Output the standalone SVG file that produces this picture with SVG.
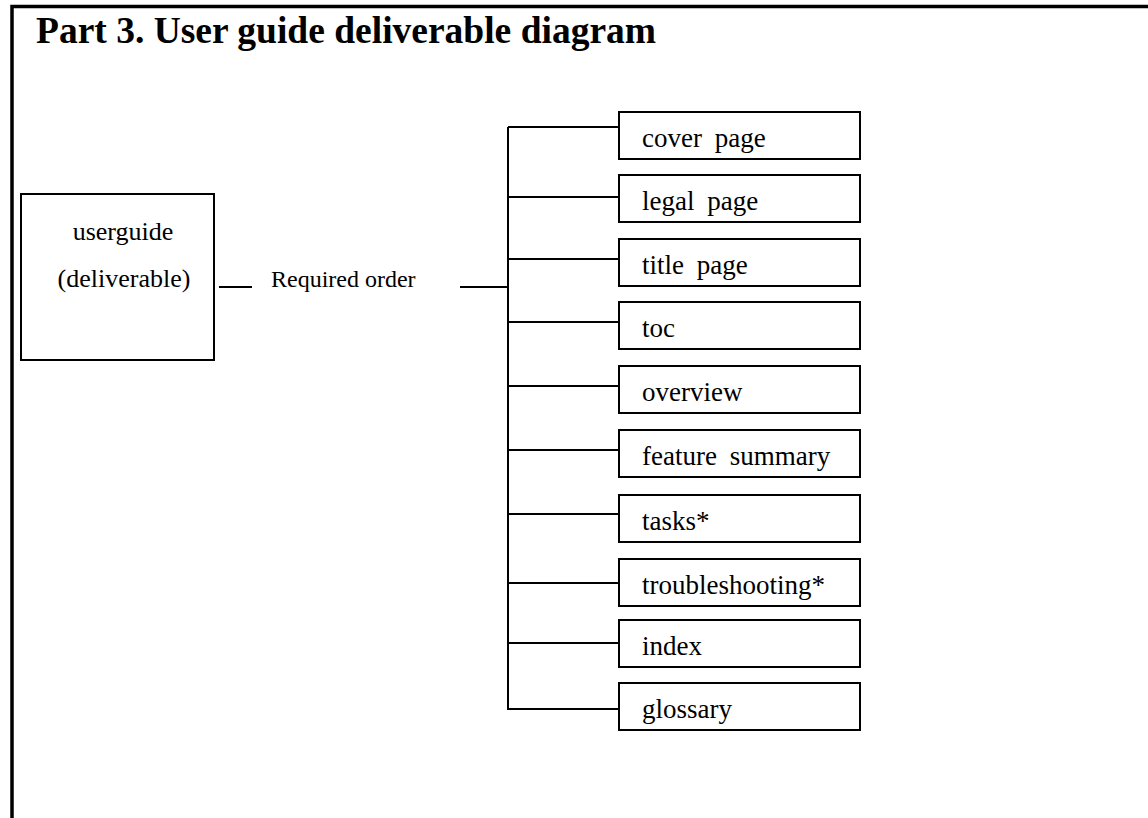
<svg xmlns="http://www.w3.org/2000/svg" width="1148" height="818" viewBox="0 0 1148 818">
<style>
  .frame { fill: none; stroke: #000; stroke-width: 3.5; }
  .box { fill: #fff; stroke: #000; stroke-width: 2; }
  .ln { fill: none; stroke: #000; stroke-width: 2; }
  .t { font-family: "Liberation Serif", "Times New Roman", serif; fill: #000; }
  .lbl { font-size: 27px; }
  .main { font-size: 26px; }
  .title { font-size: 37.5px; font-weight: bold; }
</style>
<rect width="1148" height="818" fill="#fff"/>
<path class="frame" d="M12,818 V6.5 H1148"/>
<text class="t title" x="36" y="43">Part 3. User guide deliverable diagram</text>

<g id="userguide">
  <rect class="box" x="21" y="194" width="193" height="166"/>
  <text class="t main" x="123" y="240" text-anchor="middle">userguide</text>
  <text class="t main" x="124" y="287" text-anchor="middle">(deliverable)</text>
</g>

<g id="connectors">
  <path class="ln" d="M219,287 H252"/>
  <text class="t" x="271" y="287" font-size="24">Required order</text>
  <path class="ln" d="M460,287 H508"/>
  <path class="ln" d="M508,127 V710"/>
  <path class="ln" d="M508,127 H619"/>
  <path class="ln" d="M508,197 H619"/>
  <path class="ln" d="M508,259 H619"/>
  <path class="ln" d="M508,322 H619"/>
  <path class="ln" d="M508,386 H619"/>
  <path class="ln" d="M508,450 H619"/>
  <path class="ln" d="M508,514 H619"/>
  <path class="ln" d="M508,583 H619"/>
  <path class="ln" d="M508,643 H619"/>
  <path class="ln" d="M508,709 H619"/>
</g>

<g id="cover-page"><rect class="box" x="619" y="112" width="241" height="47"/><text class="t lbl" x="642" y="147" word-spacing="6">cover page</text></g>
<g id="legal-page"><rect class="box" x="619" y="175" width="241" height="47"/><text class="t lbl" x="642" y="210" word-spacing="6">legal page</text></g>
<g id="title-page"><rect class="box" x="619" y="239" width="241" height="47"/><text class="t lbl" x="642" y="274" word-spacing="6">title page</text></g>
<g id="toc"><rect class="box" x="619" y="302" width="241" height="47"/><text class="t lbl" x="642" y="337">toc</text></g>
<g id="overview"><rect class="box" x="619" y="366" width="241" height="47"/><text class="t lbl" x="642" y="401">overview</text></g>
<g id="feature-summary"><rect class="box" x="619" y="430" width="241" height="47"/><text class="t lbl" x="642" y="465" word-spacing="6">feature summary</text></g>
<g id="tasks"><rect class="box" x="619" y="495" width="241" height="47"/><text class="t lbl" x="642" y="530">tasks*</text></g>
<g id="troubleshooting"><rect class="box" x="619" y="559" width="241" height="47"/><text class="t lbl" x="642" y="594">troubleshooting*</text></g>
<g id="index"><rect class="box" x="619" y="620" width="241" height="47"/><text class="t lbl" x="642" y="655">index</text></g>
<g id="glossary"><rect class="box" x="619" y="683" width="241" height="47"/><text class="t lbl" x="642" y="718">glossary</text></g>
</svg>
